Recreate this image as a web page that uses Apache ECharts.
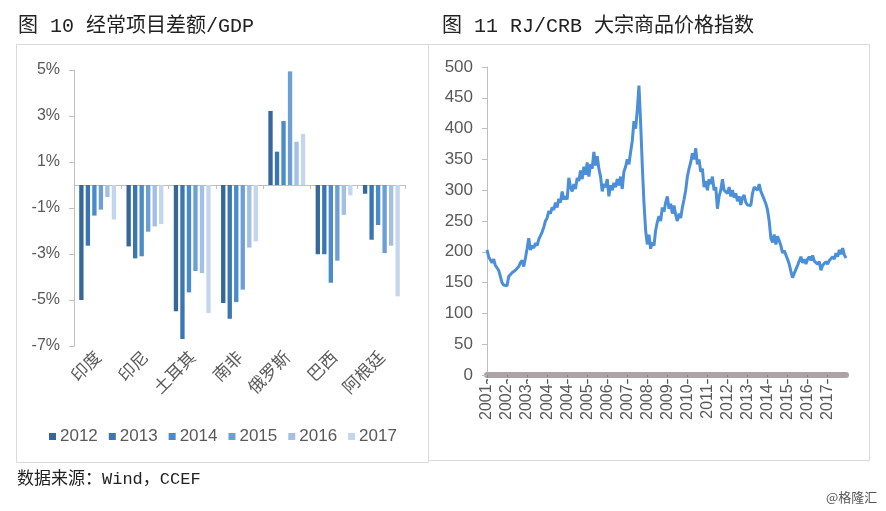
<!DOCTYPE html>
<html><head><meta charset="utf-8">
<script src="https://cdn.jsdelivr.net/npm/echarts@6/dist/echarts.min.js"></script>
<style>html,body{margin:0;padding:0;background:#fff}#c{width:886px;height:511px}</style>
</head><body><div id="c"></div>
<script>
// ---- Chart 1: current account balance / GDP (%)
const countries = ['印度','印尼','土耳其','南非','俄罗斯','巴西','阿根廷'];
const years = ['2012','2013','2014','2015','2016','2017'];
const v2012 = [-5.0, -2.67, -5.49, -5.13, 3.22, -3.01, -0.38];
const v2013 = [-2.64, -3.19, -6.7, -5.81, 1.45, -3.01, -2.38];
const v2014 = [-1.33, -3.1, -4.67, -5.09, 2.78, -4.25, -1.74];
const v2015 = [-1.07, -2.03, -3.74, -4.55, 4.94, -3.29, -2.96];
const v2016 = [-0.52, -1.8, -3.83, -2.72, 1.88, -1.3, -2.64];
const v2017 = [-1.5, -1.7, -5.57, -2.45, 2.22, -0.45, -4.84];
const barColors = ['#376798','#3c76b0','#4a8bc8','#6d9fd5','#a3bfe3','#c4d6ee'];

// ---- Chart 2: RJ/CRB index
const tickYears = ['2001','2002','2003','2004','2004','2005','2006','2007','2008','2009','2010','2011','2012','2013','2014','2015','2016','2017'];
const crb = [
203,192,190,182,188,178,176,170,160,150,146,148,
145,160,158,166,163,170,168,176,182,186,176,190,
205,222,203,210,206,214,210,220,218,232,240,250,
255,266,262,272,268,280,272,286,280,298,285,290,
285,320,305,298,310,302,320,315,332,318,338,325,
345,322,342,335,362,340,355,335,322,298,310,305,
318,290,308,300,312,305,318,308,322,302,330,338,
350,342,362,380,412,400,430,470,410,340,280,235,
212,228,205,215,210,235,248,258,250,272,265,280,
290,270,278,262,275,260,250,262,255,272,285,300,
322,335,345,360,350,368,342,350,330,335,305,315,
300,318,310,322,300,305,270,290,300,318,300,302,
295,305,290,300,288,295,282,290,276,288,292,280,
276,278,275,295,305,308,300,310,298,295,285,278,
268,250,222,215,228,212,225,218,210,198,202,195,
188,180,168,158,165,168,178,185,192,182,188,180,
188,192,186,194,185,188,180,184,170,178,176,184,
180,186,183,192,188,198,192,203,196,206,195,190
];
const crbCats = crb.map((v, i) => tickYears[Math.floor(i / 12)] + '-');

const series1 = [v2012, v2013, v2014, v2015, v2016, v2017];
const latin = "'Liberation Sans', Arial, sans-serif";
const titleFont = "'Liberation Mono', 'Noto Sans CJK SC', monospace";
const grey = '#595959';

const chart = echarts.init(document.getElementById('c'), null, {renderer: 'canvas'});
chart.setOption({
  animation: false,
  backgroundColor: '#fff',
  graphic: [
    {type: 'rect', shape: {x: 16.5, y: 44.5, width: 412, height: 418}, style: {fill: 'none', stroke: '#d9d9d9', lineWidth: 1}, silent: true},
    {type: 'rect', shape: {x: 428.5, y: 44.5, width: 441, height: 416}, style: {fill: 'none', stroke: '#d9d9d9', lineWidth: 1}, silent: true},
    {type: 'text', left: 18, top: 17, style: {text: '图 10 经常项目差额/GDP', font: "20px " + titleFont, fill: '#222'}},
    {type: 'text', left: 442, top: 17, style: {text: '图 11 RJ/CRB 大宗商品价格指数', font: "20px " + titleFont, fill: '#222'}},
    {type: 'text', left: 17, top: 471, style: {text: '数据来源：Wind，CCEF', font: "17px " + titleFont, fill: '#222'}},
    {type: 'text', left: 826, top: 491, style: {text: '@格隆汇', font: "13px 'Noto Sans CJK SC', sans-serif", fill: '#555'}}
  ],
  legend: {
    data: years, left: 44, top: 423, itemWidth: 7, itemHeight: 7, itemGap: 11,
    icon: 'rect',
    textStyle: {fontFamily: latin, fontSize: 17, color: grey, padding: [0, 0, 0, -1]}
  },
  grid: [
    {left: 74, right: 481, top: 70, bottom: 165},
    {left: 487, right: 40, top: 67, bottom: 136}
  ],
  xAxis: [
    {gridIndex: 0, type: 'category', data: countries, position: 'bottom',
     axisLine: {onZero: true, lineStyle: {color: '#bfbfbf', width: 1}},
     axisTick: {show: true, length: 4, lineStyle: {color: '#bfbfbf'}},
     axisLabel: {show: false}},
    {gridIndex: 0, type: 'category', data: countries, position: 'bottom',
     axisLine: {show: false, onZero: false}, axisTick: {show: false},
     axisLabel: {rotate: 45, margin: 8, fontFamily: "'Noto Sans CJK SC', sans-serif", fontSize: 17, color: grey}},
    {gridIndex: 1, type: 'category', data: crbCats, boundaryGap: false,
     axisLine: {lineStyle: {color: '#aba3a6', width: 6}},
     axisTick: {show: true, interval: 11, length: 9, lineStyle: {color: '#7f7f7f', type: [2, 2], width: 1}},
     axisLabel: {interval: 11, rotate: 90, margin: 4, fontFamily: latin, fontSize: 16, color: grey}}
  ],
  yAxis: [
    {gridIndex: 0, type: 'value', min: -7, max: 5, interval: 2,
     axisLine: {show: true, lineStyle: {color: '#bfbfbf'}},
     axisTick: {show: true, length: 5, lineStyle: {color: '#bfbfbf'}},
     splitLine: {show: false},
     axisLabel: {margin: 14, fontFamily: latin, fontSize: 16, color: grey,
       formatter: v => (v < 0 ? '-' + Math.abs(v) : v) + '%'}},
    {gridIndex: 1, type: 'value', min: 0, max: 500, interval: 50,
     axisLine: {show: true, lineStyle: {color: '#bfbfbf'}},
     axisTick: {show: true, length: 5, lineStyle: {color: '#bfbfbf'}},
     splitLine: {show: false},
     axisLabel: {margin: 14, fontFamily: latin, fontSize: 17, color: grey}}
  ],
  series: series1.map((d, i) => ({
    name: years[i], type: 'bar', xAxisIndex: 0, yAxisIndex: 0, data: d,
    barGap: '50%', barCategoryGap: '22%',
    itemStyle: {color: barColors[i]}
  })).concat([{
    name: 'RJ/CRB', type: 'line', xAxisIndex: 2, yAxisIndex: 1, data: crb,
    symbol: 'none', lineStyle: {color: '#4a8fd8', width: 3}, z: 3
  }])
});
</script></body></html>
